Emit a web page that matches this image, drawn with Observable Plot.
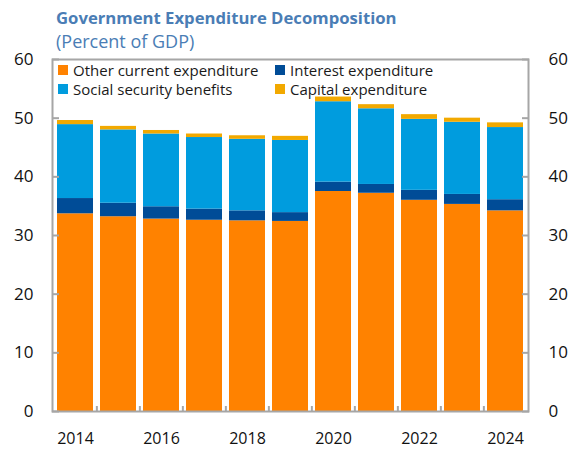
<!DOCTYPE html>
<html>
<head>
<meta charset="utf-8">
<script src="https://cdn.jsdelivr.net/npm/d3@7"></script>
<script src="https://cdn.jsdelivr.net/npm/@observablehq/plot@0.6"></script>
<style>
  html, body { margin: 0; padding: 0; background: #fff; }
  #wrap { position: relative; width: 575px; height: 449px; font-family: "Open Sans", sans-serif; overflow: hidden; }
  #title { position: absolute; left: 56px; top: 8px; font-size: 16.7px; line-height: 20px; font-weight: 700; color: #4a7db5; white-space: nowrap; }
  #subtitle { position: absolute; left: 56px; top: 31px; font-size: 18px; line-height: 20px; color: #4a7db5; white-space: nowrap; }
  #legend { position: absolute; left: 58px; top: 60px; font-size: 15px; color: #1a1a1a; display: grid; grid-template-columns: 217px auto; row-gap: 0px; }
  .item { display: flex; align-items: center; height: 19px; white-space: nowrap; }
  .sw { width: 10px; height: 10px; margin-right: 5px; flex: none; }
  svg { position: absolute; left: 0; top: 0; }
</style>
</head>
<body>
<div id="wrap">
  <div id="chart"></div>
  <div id="title">Government Expenditure Decomposition</div>
  <div id="subtitle">(Percent of GDP)</div>
  <div id="legend"></div>
</div>
<script>
const years = [2014, 2015, 2016, 2017, 2018, 2019, 2020, 2021, 2022, 2023, 2024];
const otherCurrent = [33.7, 33.2, 32.8, 32.6, 32.5, 32.4, 37.5, 37.2, 36.0, 35.3, 34.2];
const interest     = [2.6, 2.3, 2.1, 1.9, 1.7, 1.5, 1.6, 1.5, 1.7, 1.7, 1.9];
const socialSec    = [12.6, 12.5, 12.4, 12.2, 12.2, 12.3, 13.7, 12.9, 12.1, 12.3, 12.3];
const capital      = [0.7, 0.6, 0.6, 0.6, 0.6, 0.7, 0.8, 0.7, 0.8, 0.7, 0.8];
const seriesNames = ["Other current expenditure", "Interest expenditure", "Social security benefits", "Capital expenditure"];
const seriesColors = ["#ff8200", "#004c97", "#009cde", "#f2a900"];
const legendOrder = [0, 1, 2, 3];
const yTicks = [0, 10, 20, 30, 40, 50, 60];
const xLabels = [2014, 2016, 2018, 2020, 2022, 2024];

const seriesValues = [otherCurrent, interest, socialSec, capital];
const rows = [];
seriesNames.forEach((s, si) => years.forEach((yr, i) => rows.push({year: yr, series: s, value: seriesValues[si][i]})));

const W = 575, H = 449, mL = 52, mR = 47, mT = 59, mB = 38;
const pIn = 0.155;
const step = (W - mL - mR) / years.length;

const chart = Plot.plot({
  width: W, height: H,
  marginLeft: mL, marginRight: mR, marginTop: mT, marginBottom: mB,
  style: {fontFamily: "Open Sans, sans-serif", fontSize: "16px", color: "#111", background: "transparent"},
  x: {type: "band", domain: years, paddingInner: pIn, paddingOuter: pIn / 2, label: null},
  y: {domain: [0, 60], label: null},
  color: {domain: seriesNames, range: seriesColors},
  marks: [
    Plot.barY(rows, {x: "year", y: "value", fill: "series", order: seriesNames}),
    Plot.ruleX(years.slice(1), {x: d => d, y1: 0, y2: 0.85, dx: -step / 2, stroke: "#a6a6a6", strokeWidth: 2}),
    Plot.axisY({anchor: "left", ticks: yTicks, tickSize: -7, tickPadding: 26, stroke: "#a6a6a6", strokeWidth: 2, fontSize: 17}),
    Plot.axisY({anchor: "right", ticks: yTicks, tickSize: -7, tickPadding: 27, stroke: "#a6a6a6", strokeWidth: 2, fontSize: 17}),
    Plot.axisX({ticks: xLabels, tickFormat: d => String(d), tickSize: 0, tickPadding: 21, fontSize: 16}),
    Plot.frame({stroke: "#a6a6a6", strokeWidth: 2})
  ]
});
document.getElementById("chart").appendChild(chart);

const legend = document.getElementById("legend");
legendOrder.forEach(i => {
  const it = document.createElement("div");
  it.className = "item";
  it.innerHTML = `<span class="sw" style="background:${seriesColors[i]}"></span><span>${seriesNames[i]}</span>`;
  legend.appendChild(it);
});
</script>
</body>
</html>
